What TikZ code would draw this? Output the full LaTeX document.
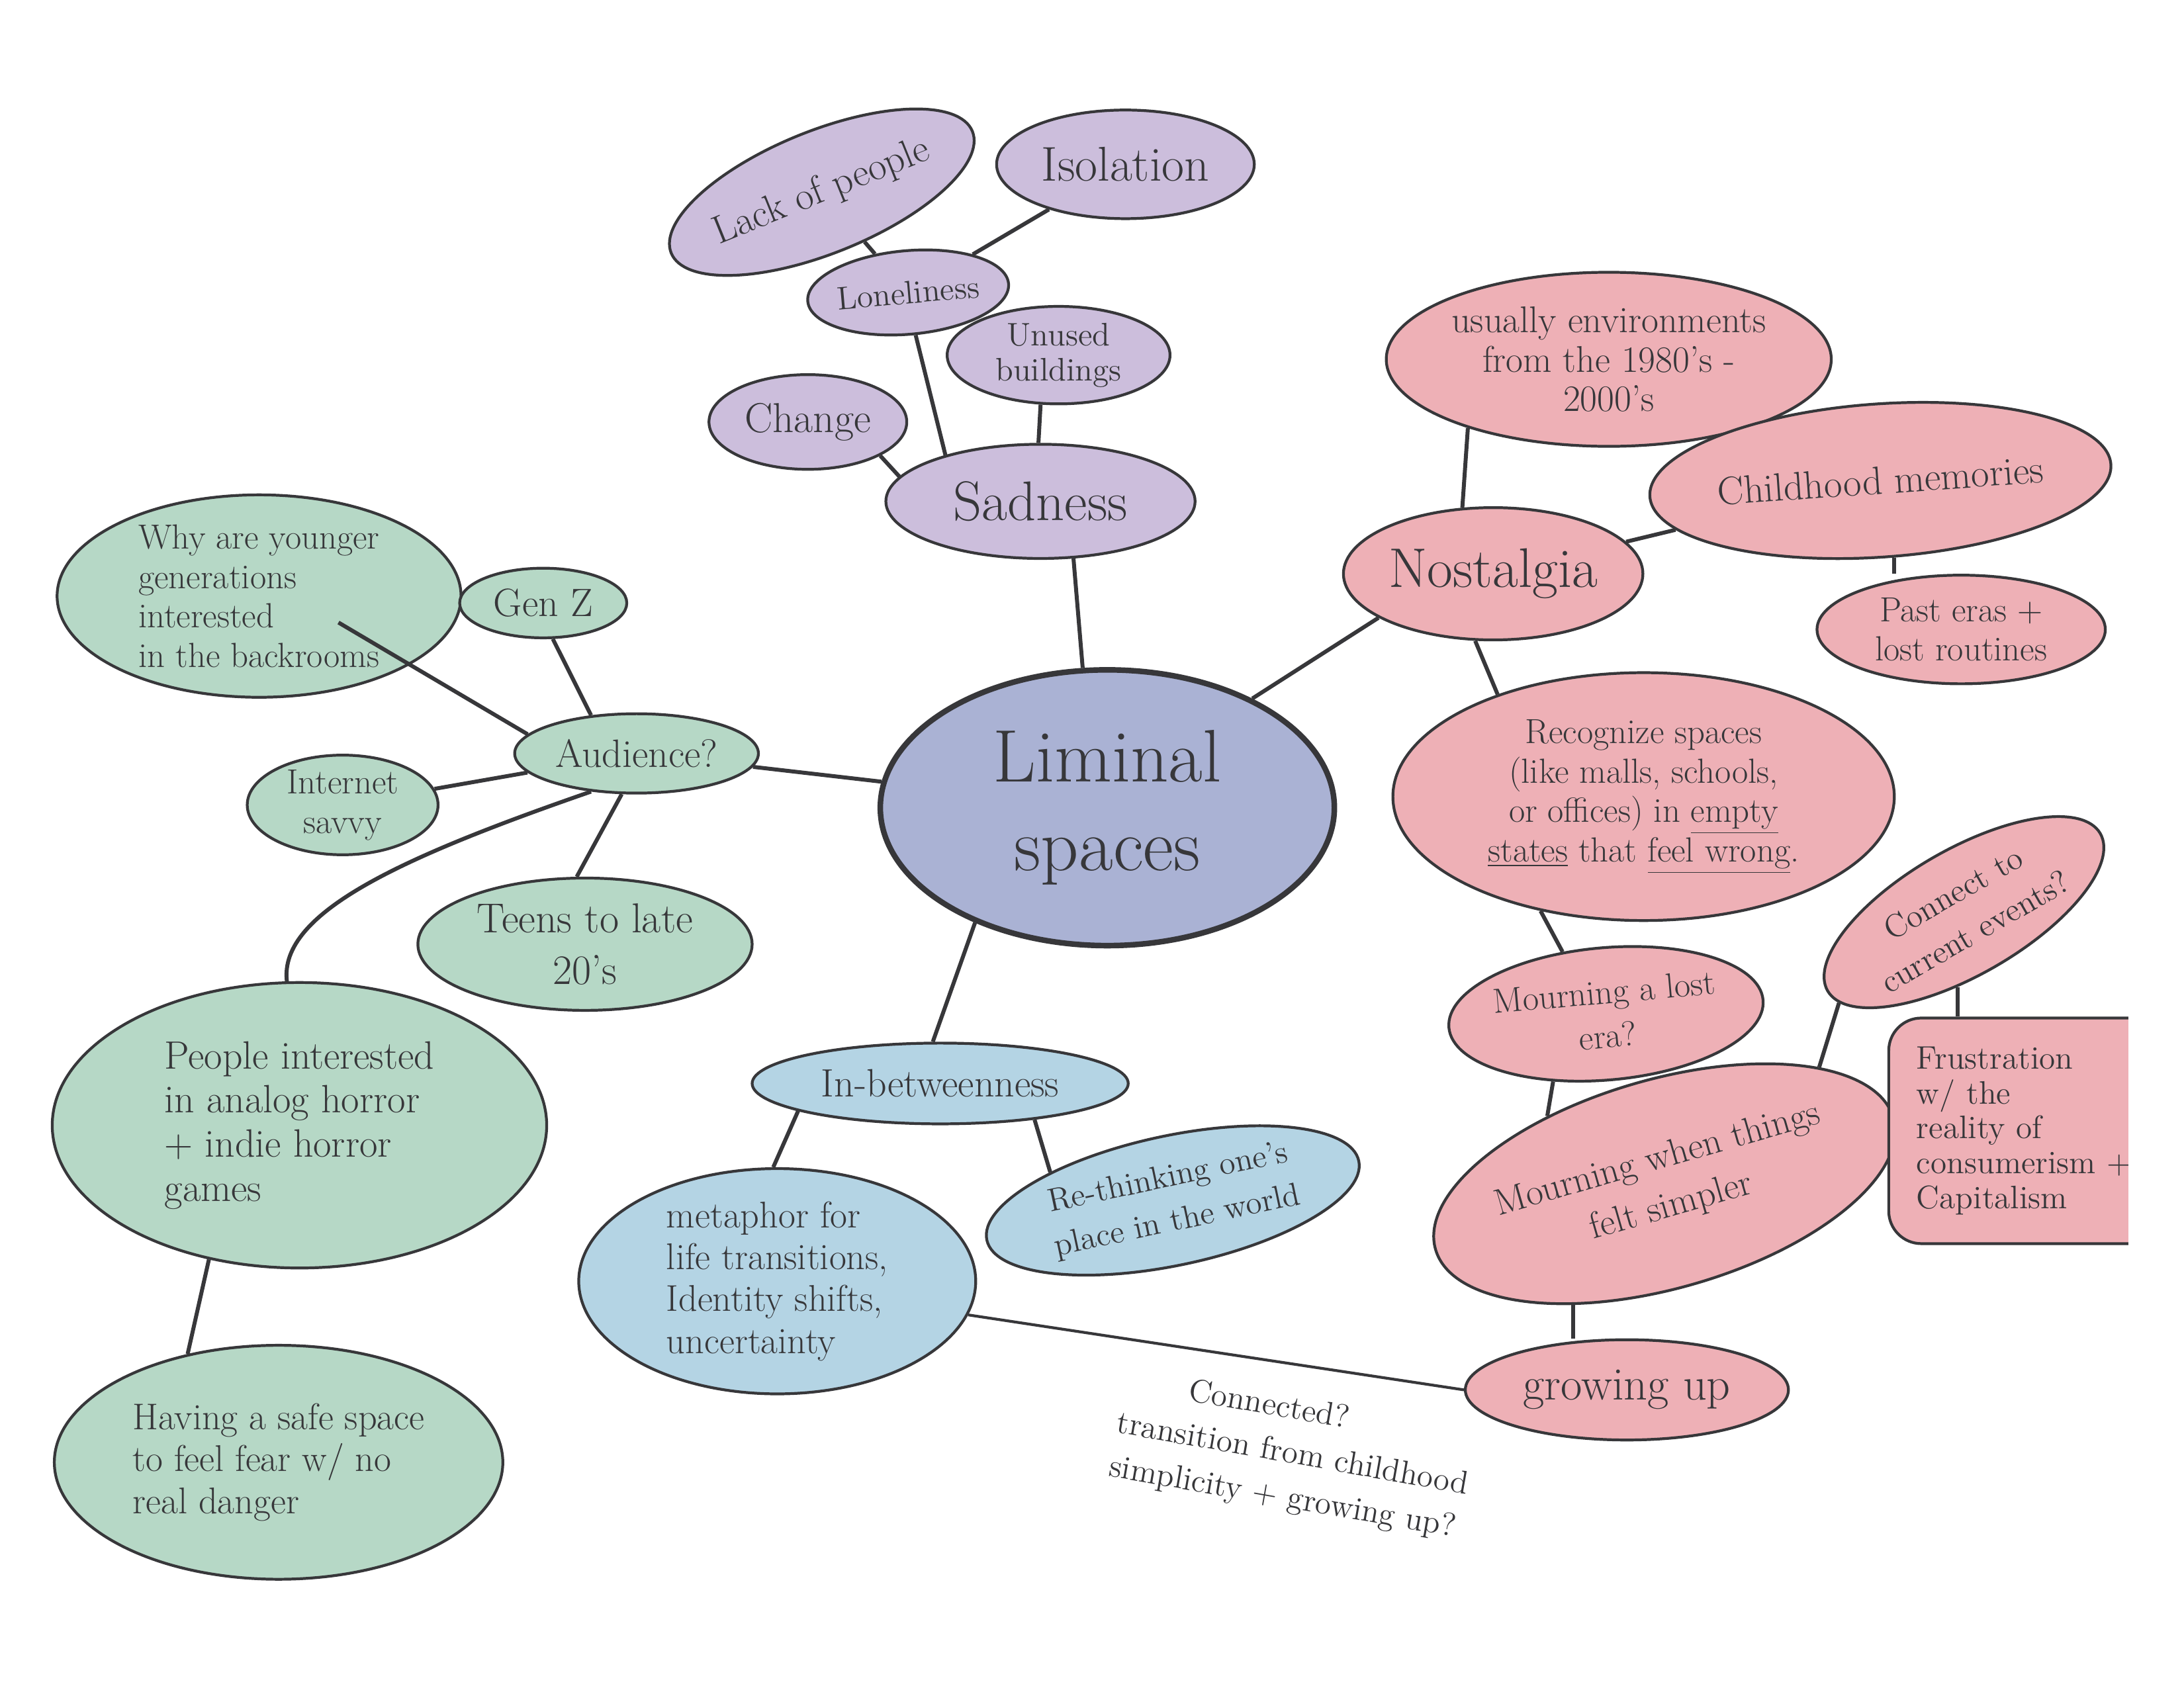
\documentclass[tikz,border=0pt]{standalone}
\usepackage{fontspec}
\usetikzlibrary{shapes.geometric}
\definecolor{ink}{RGB}{55,55,58}
\definecolor{lavender}{RGB}{204,190,220}
\definecolor{rosewash}{RGB}{238,176,182}
\definecolor{mintwash}{RGB}{182,216,198}
\definecolor{skywash}{RGB}{180,212,228}
\definecolor{periwash}{RGB}{170,178,212}
\newcommand{\pxl}{0.021046cm}
\tikzset{
  bsize/.style 2 args={minimum width=#1*\pxl, minimum height=#2*\pxl},
  bubble/.style={ellipse, draw=ink, line width=1.2pt, inner sep=0pt, align=center, text=ink, font=\fontsize{15}{17}\selectfont},
  purplebub/.style={bubble, fill=lavender},
  pinkbub/.style={bubble, fill=rosewash},
  greenbub/.style={bubble, fill=mintwash},
  bluebub/.style={bubble, fill=skywash},
  link/.style={draw=ink, line width=1.7pt},
}
\begin{document}
\begin{tikzpicture}[x=0.021046cm, y=-0.021046cm]
\useasboundingbox (0,0) rectangle (1568,1212);
\fill[white] (0,0) rectangle (1568,1212);

% centre
\node[bubble, fill=periwash, line width=2.4pt, bsize={326}{198}, font=\fontsize{32}{38}\selectfont] (lim) at (795,580) {Liminal\\spaces};

% sadness branch
\node[purplebub, bsize={222}{82}, font=\fontsize{24}{28}\selectfont] (sad) at (747,360) {Sadness};
\node[purplebub, bsize={142}{68}, font=\fontsize{18}{20}\selectfont] (chg) at (580,303) {Change};
\node[purplebub, bsize={160}{70}, font=\fontsize{14}{15}\selectfont] (unused) at (760,255) {Unused\\buildings};
\node[purplebub, bsize={140}{60}, rotate=5, font=\fontsize{14}{16}\selectfont] (lone) at (652,210) {Loneliness};
\node[purplebub, bsize={215}{88}, rotate=22, font=\fontsize{17}{19}\selectfont] (lack) at (590,138) {Lack of people};
\node[purplebub, bsize={185}{78}, font=\fontsize{21}{24}\selectfont] (iso) at (808,118) {Isolation};

% nostalgia branch
\node[pinkbub, bsize={288}{125}, font=\fontsize{16}{17}\selectfont] (usual) at (1155,258) {usually environments\\from the 1980's -\\2000's};
\node[pinkbub, bsize={306}{110}, rotate=4, font=\fontsize{17}{19}\selectfont] (child) at (1350,345) {Childhood memories};
\node[pinkbub, bsize={215}{95}, font=\fontsize{24}{28}\selectfont] (nos) at (1072,412) {Nostalgia};
\node[pinkbub, bsize={207}{78}] (past) at (1408,452) {Past eras +\\lost routines};
\node[pinkbub, bsize={360}{178}] (recog) at (1180,572) {Recognize spaces\\(like malls, schools,\\or offices) in \underline{empty}\\\underline{states} that \underline{feel wrong}.};
\node[pinkbub, bsize={217}{95}, rotate=5, font=\fontsize{15}{19}\selectfont] (lost) at (1153,728) {Mourning a lost\\era?};
\node[pinkbub, bsize={226}{90}, rotate=30, font=\fontsize{14}{19}\selectfont] (curr) at (1410,655) {Connect to\\current events?};
\node[pinkbub, bsize={330}{150}, rotate=16, font=\fontsize{16}{21}\selectfont] (simpler) at (1195,850) {Mourning when things\\felt simpler};
\node[pinkbub, bsize={232}{72}, font=\fontsize{20}{22}\selectfont] (grow) at (1168,998) {growing up};
\begin{scope}
\clip (0,0) rectangle (1528,1212);
\node[draw=ink, line width=1.2pt, fill=rosewash, rounded corners=14pt, anchor=west, minimum height=162*\pxl, text width=230*\pxl, inner xsep=20*\pxl, align=left, text=ink, font=\fontsize{14}{15}\selectfont] (frus) at (1355,812) {Frustration\\w/ the\\reality of\\consumerism +\\Capitalism};
\end{scope}

% audience branch
\node[greenbub, bsize={175}{57}, font=\fontsize{17}{19}\selectfont] (aud) at (457,541) {Audience?};
\node[greenbub, bsize={290}{140}, align=left] (why) at (186,428) {Why are younger\\generations\\interested\\in the backrooms};
\node[greenbub, bsize={120}{50}, font=\fontsize{17}{19}\selectfont] (genz) at (390,433) {Gen Z};
\node[greenbub, bsize={137}{67}] (savvy) at (246,578) {Internet\\savvy};
\node[greenbub, bsize={240}{95}, font=\fontsize{18}{22}\selectfont] (teens) at (420,678) {Teens to late\\20's};
\node[greenbub, bsize={355}{205}, align=left, font=\fontsize{17}{19}\selectfont] (horror) at (215,808) {People interested\\in analog horror\\+ indie horror\\games};
\node[greenbub, bsize={322}{168}, align=left, font=\fontsize{16}{18}\selectfont] (safe) at (200,1050) {Having a safe space\\to feel fear w/ no\\real danger};

% in-betweenness branch
\node[bluebub, bsize={270}{58}, font=\fontsize{17}{19}\selectfont] (inb) at (675,778) {In-betweenness};
\node[bluebub, bsize={285}{150}, align=left, font=\fontsize{16}{18}\selectfont] (meta) at (558,920) {metaphor for\\life transitions,\\Identity shifts,\\uncertainty};
\node[bluebub, bsize={273}{93}, rotate=12, font=\fontsize{14}{19}\selectfont] (rethink) at (842,862) {Re-thinking one's\\place in the world};

\node[align=left, rotate=-10, text=ink, font=\fontsize{14}{19}\selectfont] (note) at (928,1045) {\hspace{2em}Connected?\\transition from childhood\\simplicity + growing up?};

\coordinate (whytip) at (243,447);

% links
\draw[link] (sad.-60) -- (lim.100);
\draw[link] (lim.37) -- (nos.201);
\draw[link] (lim) -- (aud);
\draw[link] (lim.221) -- (inb.100);
\draw[link] (sad.170) -- (chg.-25);
\draw[link] (sad.154) -- (lone.-85);
\draw[link] (sad.92) -- (unused.-110);
\draw[link] (lone) -- (lack);
\draw[link] (lone) -- (iso);
\draw[link] (usual.206) -- (nos.115);
\draw[link] (nos) -- (child);
\draw[link] (child.-84) -- (child.-84 |- past.north);
\draw[link] (nos.255) -- (recog.145);
\draw[link] (recog.228) -- (lost.120);
\draw[link] (lost.227) -- (simpler.134);
\draw[link] (simpler.21) -- (curr.186);
\draw[link] (curr.235) -- (curr.235 |- frus.north);
\draw[link] (simpler.217) -- (simpler.217 |- grow.north);
\draw[link] (aud.170) -- (whytip);
\draw[link] (aud.140) -- (genz.-75);
\draw[link] (aud) -- (savvy);
\draw[link] (aud.250) -- (teens.97);
\draw[link] (aud.220) .. controls (290,615) and (200,655) .. (horror.95);
\draw[link] (horror.236) -- (safe.130);
\draw[link] (inb.191) -- (meta.92);
\draw[link] (inb.-21) -- (rethink.155);
\draw[link, line width=1.2pt] (meta.-10) -- (grow.west);
\end{tikzpicture}
\end{document}
